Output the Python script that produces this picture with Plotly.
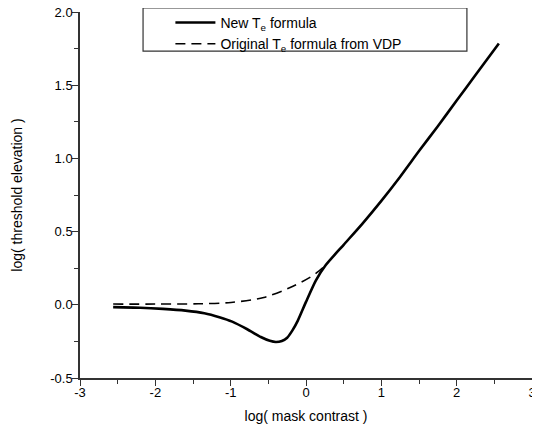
import plotly.graph_objects as go

# Solid curve: new T_e formula
new_x = [-2.56, -2.2, -1.9, -1.6, -1.35, -1.15, -0.98, -0.78, -0.6, -0.48, -0.40, -0.32,
         -0.25, -0.18, -0.11, 0.0, 0.13, 0.26, 0.5, 0.75, 1.0, 1.25, 1.5, 1.75, 2.0, 2.25, 2.56]
new_y = [-0.016, -0.02, -0.028, -0.04, -0.058, -0.085, -0.115, -0.167, -0.22, -0.246, -0.254, -0.247,
         -0.225, -0.175, -0.11, 0.02, 0.165, 0.27, 0.41, 0.555, 0.71, 0.875, 1.05, 1.22, 1.395, 1.57, 1.785]

# Dashed curve: original T_e formula from VDP
orig_x = [-2.56, -2.0, -1.43, -0.995, -0.56, -0.21, 0.06, 0.17, 0.26]
orig_y = [0.005, 0.005, 0.007, 0.016, 0.05, 0.118, 0.19, 0.23, 0.27]

x_ticks = [-3, -2, -1, 0, 1, 2, 3]
y_ticks = [-0.5, 0.0, 0.5, 1.0, 1.5, 2.0]

font = "Liberation Sans, Arial, sans-serif"

fig = go.Figure()
fig.add_trace(go.Scatter(x=orig_x, y=orig_y, mode="lines",
                         name="Original T<sub>e</sub> formula from VDP",
                         line=dict(color="black", width=1.6, dash="10px,6px", shape="spline", smoothing=0.9)))
fig.add_trace(go.Scatter(x=new_x, y=new_y, mode="lines",
                         name="New T<sub>e</sub> formula",
                         line=dict(color="black", width=2.6, shape="spline", smoothing=0.6)))

axis_common = dict(showline=True, linecolor="#333333", linewidth=1.5, ticks="outside",
                   ticklen=6, tickwidth=1.3, tickcolor="#333333", showgrid=False, zeroline=False,
                   mirror=False, automargin=False, ticklabeloverflow="allow",
                   tickfont=dict(family=font, size=13, color="black"))

fig.update_xaxes(range=[-3, 3], tickvals=x_ticks, ticktext=[str(v) for v in x_ticks],
                 minor=dict(dtick=0.5, ticks="outside", ticklen=4, tickwidth=1.3, tickcolor="#333333"),
                 ticklabelstandoff=-4,
                 title=dict(text="log( mask contrast )", font=dict(family=font, size=14, color="black"), standoff=12),
                 **axis_common)
fig.update_yaxes(range=[-0.5, 2.0], tickvals=y_ticks, ticktext=[f"{v:.1f}" for v in y_ticks],
                 minor=dict(dtick=0.25, ticks="outside", ticklen=4, tickwidth=1.3, tickcolor="#333333"),
                 ticklabelstandoff=-3,
                 title=dict(text="log( threshold elevation )", font=dict(family=font, size=14, color="black"), standoff=24),
                 **axis_common)

fig.add_shape(type="rect", xref="paper", yref="paper", x0=0.1395, x1=0.856, y0=0.893, y1=1.011,
              line=dict(color="#333333", width=1.2), fillcolor="rgba(0,0,0,0)", layer="above")

# The page adds an 8px body margin; the figure is sized so it fits the 540x438 window without scrollbars.
fig.update_layout(
    width=524, height=422,
    margin=dict(l=72, r=0, t=4, b=52, autoexpand=False),
    paper_bgcolor="white", plot_bgcolor="white",
    font=dict(family=font, size=14, color="black"),
    legend=dict(x=0.2, y=1.014, xanchor="left", yanchor="top", traceorder="reversed",
                bgcolor="rgba(0,0,0,0)", borderwidth=0, itemwidth=40,
                font=dict(family=font, size=14, color="black"), tracegroupgap=0),
)

fig.write_html("out.html")
